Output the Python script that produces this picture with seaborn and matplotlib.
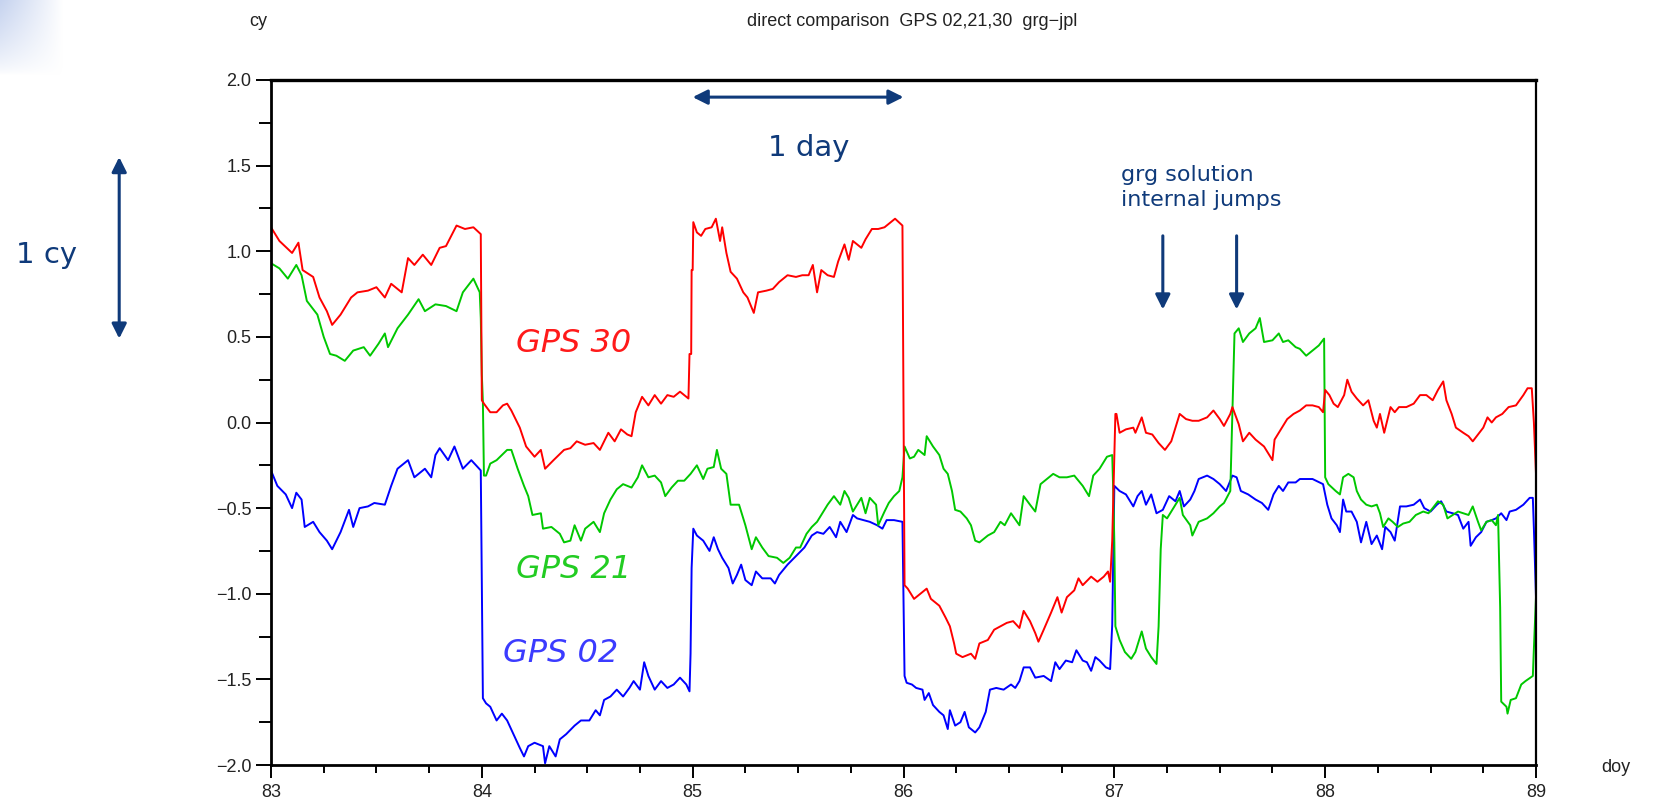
import numpy as np
import pandas as pd
import matplotlib
matplotlib.use("Agg")
import matplotlib.pyplot as plt
from matplotlib.ticker import MultipleLocator, FuncFormatter
import seaborn as sns

# ---------------- data (doy, cy) ----------------
gps30 = [(83.00,1.14),(83.04,1.06),(83.10,0.99),(83.13,1.05),(83.15,0.89),(83.20,0.85),(83.23,0.73),(83.265,0.65),(83.29,0.57),(83.33,0.63),(83.38,0.73),(83.41,0.76),(83.46,0.77),(83.50,0.79),(83.54,0.73),(83.57,0.81),(83.62,0.76),(83.65,0.96),(83.68,0.92),(83.72,0.98),(83.76,0.92),(83.80,1.02),(83.83,1.03),(83.88,1.15),(83.92,1.13),(83.96,1.14),(83.995,1.10),
         (84.00,0.13),(84.01,0.11),(84.04,0.06),(84.07,0.06),(84.10,0.10),(84.12,0.11),(84.14,0.07),(84.18,-0.03),(84.21,-0.14),(84.25,-0.20),(84.28,-0.16),(84.30,-0.27),(84.34,-0.22),(84.39,-0.16),(84.42,-0.15),(84.45,-0.11),(84.49,-0.13),(84.53,-0.12),(84.56,-0.16),(84.60,-0.06),(84.63,-0.11),(84.66,-0.04),(84.69,-0.07),(84.71,-0.08),(84.73,0.06),(84.76,0.15),(84.79,0.10),(84.82,0.16),(84.85,0.11),(84.88,0.16),(84.91,0.15),(84.94,0.18),(84.98,0.14),(84.985,0.40),(84.993,0.40),(84.995,0.89),(85.00,0.89),
         (85.003,1.17),(85.02,1.11),(85.04,1.09),(85.06,1.13),(85.09,1.14),(85.11,1.19),(85.13,1.06),(85.14,1.14),(85.16,0.99),(85.18,0.88),(85.21,0.84),(85.24,0.76),(85.26,0.73),(85.29,0.64),(85.31,0.76),(85.35,0.77),(85.38,0.78),(85.41,0.82),(85.45,0.86),(85.49,0.85),(85.52,0.86),(85.55,0.86),(85.57,0.92),(85.59,0.76),(85.61,0.89),(85.64,0.86),(85.67,0.85),(85.69,0.94),(85.72,1.04),(85.74,0.95),(85.76,1.06),(85.80,1.02),(85.82,1.07),(85.85,1.13),(85.88,1.13),(85.91,1.14),(85.94,1.17),(85.96,1.19),(85.995,1.15),
         (86.00,0.13),(86.005,-0.95),(86.02,-0.97),(86.05,-1.03),(86.08,-1.00),(86.11,-0.97),(86.13,-1.03),(86.17,-1.07),(86.20,-1.14),(86.22,-1.19),(86.24,-1.29),(86.25,-1.35),(86.28,-1.37),(86.32,-1.35),(86.34,-1.38),(86.36,-1.29),(86.40,-1.27),(86.43,-1.21),(86.46,-1.19),(86.49,-1.17),(86.52,-1.16),(86.55,-1.20),(86.57,-1.10),(86.60,-1.16),(86.625,-1.23),(86.64,-1.28),(86.665,-1.21),(86.70,-1.11),(86.73,-1.02),(86.75,-1.11),(86.775,-1.02),(86.81,-0.98),(86.83,-0.91),(86.85,-0.95),(86.89,-0.90),(86.92,-0.93),(86.95,-0.90),(86.97,-0.87),(86.98,-0.93),(86.99,-0.69),
         (87.00,-0.19),(87.005,0.05),(87.01,0.05),(87.025,-0.06),(87.055,-0.04),(87.09,-0.03),(87.10,-0.06),(87.13,0.03),(87.15,-0.06),(87.18,-0.07),(87.21,-0.12),(87.24,-0.16),(87.27,-0.11),(87.31,0.05),(87.34,0.02),(87.37,0.01),(87.40,0.01),(87.44,0.03),(87.47,0.07),(87.50,0.02),(87.52,-0.02),(87.55,0.05),(87.56,0.09),(87.59,-0.01),(87.61,-0.11),(87.64,-0.06),(87.67,-0.10),(87.71,-0.14),(87.73,-0.18),(87.75,-0.22),(87.76,-0.10),(87.79,-0.04),(87.82,0.02),(87.85,0.05),(87.88,0.07),(87.91,0.10),(87.94,0.10),(87.97,0.09),(87.99,0.06),
         (88.00,0.19),(88.02,0.16),(88.04,0.11),(88.06,0.09),(88.09,0.16),(88.105,0.25),(88.125,0.18),(88.15,0.14),(88.18,0.10),(88.205,0.13),(88.23,0.01),(88.245,-0.03),(88.26,0.05),(88.28,-0.06),(88.31,0.09),(88.33,0.06),(88.35,0.09),(88.385,0.09),(88.42,0.11),(88.45,0.16),(88.48,0.16),(88.51,0.13),(88.535,0.19),(88.56,0.24),(88.575,0.13),(88.60,0.05),(88.62,-0.03),(88.655,-0.06),(88.68,-0.08),(88.70,-0.11),(88.725,-0.07),(88.75,-0.03),(88.77,0.03),(88.79,0.00),(88.81,0.03),(88.84,0.05),(88.87,0.09),(88.905,0.10),(88.94,0.16),(88.96,0.20),(88.98,0.20),(88.99,0.00),(89.00,-0.30)]

gps21 = [(83.00,0.93),(83.04,0.90),(83.08,0.84),(83.12,0.92),(83.145,0.86),(83.17,0.71),(83.22,0.63),(83.25,0.50),(83.28,0.40),(83.31,0.39),(83.35,0.36),(83.39,0.42),(83.44,0.44),(83.47,0.39),(83.51,0.46),(83.54,0.52),(83.555,0.44),(83.60,0.55),(83.65,0.63),(83.70,0.72),(83.73,0.65),(83.78,0.69),(83.83,0.68),(83.88,0.65),(83.91,0.76),(83.96,0.84),(83.99,0.76),(83.995,0.61),(84.00,0.28),(84.005,0.12),
         (84.01,-0.31),(84.02,-0.31),(84.04,-0.24),(84.07,-0.22),(84.095,-0.19),(84.12,-0.16),(84.14,-0.16),(84.17,-0.27),(84.20,-0.37),(84.22,-0.43),(84.24,-0.54),(84.28,-0.53),(84.29,-0.62),(84.33,-0.61),(84.37,-0.65),(84.39,-0.70),(84.42,-0.69),(84.44,-0.60),(84.47,-0.69),(84.49,-0.62),(84.53,-0.58),(84.56,-0.64),(84.58,-0.53),(84.61,-0.45),(84.64,-0.39),(84.67,-0.36),(84.71,-0.38),(84.74,-0.32),(84.76,-0.25),(84.79,-0.32),(84.82,-0.31),(84.85,-0.35),(84.87,-0.43),(84.90,-0.38),(84.93,-0.34),(84.96,-0.34),(84.99,-0.30),
         (85.02,-0.25),(85.05,-0.33),(85.07,-0.27),(85.10,-0.26),(85.115,-0.16),(85.135,-0.27),(85.16,-0.30),(85.18,-0.48),(85.22,-0.48),(85.25,-0.60),(85.28,-0.74),(85.30,-0.67),(85.33,-0.73),(85.36,-0.78),(85.40,-0.79),(85.43,-0.82),(85.46,-0.79),(85.49,-0.73),(85.51,-0.73),(85.54,-0.65),(85.565,-0.61),(85.59,-0.58),(85.61,-0.54),(85.64,-0.48),(85.67,-0.43),(85.70,-0.48),(85.72,-0.40),(85.74,-0.44),(85.76,-0.52),(85.80,-0.44),(85.82,-0.53),(85.84,-0.44),(85.87,-0.48),(85.88,-0.60),(85.91,-0.52),(85.93,-0.47),(85.955,-0.43),(85.98,-0.40),(85.995,-0.32),
         (86.005,-0.14),(86.03,-0.21),(86.05,-0.20),(86.07,-0.16),(86.10,-0.19),(86.11,-0.08),(86.14,-0.14),(86.17,-0.19),(86.19,-0.27),(86.21,-0.30),(86.23,-0.40),(86.245,-0.51),(86.27,-0.52),(86.30,-0.56),(86.32,-0.60),(86.34,-0.69),(86.36,-0.70),(86.40,-0.66),(86.43,-0.64),(86.46,-0.58),(86.48,-0.60),(86.51,-0.53),(86.55,-0.60),(86.57,-0.43),(86.60,-0.48),(86.625,-0.52),(86.65,-0.36),(86.68,-0.33),(86.71,-0.30),(86.74,-0.32),(86.775,-0.32),(86.81,-0.31),(86.85,-0.37),(86.88,-0.43),(86.90,-0.31),(86.93,-0.27),(86.965,-0.20),(86.99,-0.19),(86.995,-0.41),
         (87.00,-0.70),(87.005,-1.19),(87.025,-1.27),(87.05,-1.34),(87.08,-1.38),(87.10,-1.34),(87.13,-1.22),(87.15,-1.32),(87.175,-1.37),(87.20,-1.41),(87.21,-1.19),(87.22,-0.74),(87.23,-0.54),(87.25,-0.56),(87.28,-0.50),(87.31,-0.44),(87.325,-0.54),(87.36,-0.60),(87.37,-0.66),(87.40,-0.58),(87.44,-0.56),(87.47,-0.53),(87.50,-0.49),(87.52,-0.47),(87.55,-0.40),(87.56,0.07),(87.57,0.52),(87.59,0.55),(87.61,0.47),(87.64,0.52),(87.67,0.55),(87.69,0.61),(87.71,0.47),(87.75,0.48),(87.78,0.52),(87.80,0.47),(87.825,0.48),(87.86,0.44),(87.88,0.43),(87.91,0.39),(87.94,0.42),(87.97,0.45),(87.995,0.49),
         (88.00,-0.32),(88.015,-0.36),(88.05,-0.40),(88.07,-0.42),(88.085,-0.32),(88.11,-0.30),(88.135,-0.32),(88.15,-0.40),(88.17,-0.45),(88.195,-0.48),(88.22,-0.49),(88.245,-0.48),(88.26,-0.53),(88.275,-0.61),(88.30,-0.56),(88.32,-0.58),(88.345,-0.61),(88.37,-0.59),(88.40,-0.58),(88.43,-0.54),(88.465,-0.52),(88.49,-0.53),(88.51,-0.50),(88.535,-0.46),(88.56,-0.48),(88.58,-0.56),(88.605,-0.54),(88.63,-0.52),(88.655,-0.53),(88.68,-0.54),(88.70,-0.49),(88.725,-0.58),(88.74,-0.63),(88.765,-0.58),(88.79,-0.57),(88.81,-0.60),(88.82,-0.54),(88.83,-1.08),(88.835,-1.63),(88.86,-1.66),(88.865,-1.70),(88.88,-1.62),(88.905,-1.61),(88.93,-1.53),(88.95,-1.51),(88.985,-1.48),(88.99,-1.32),(89.00,-1.02)]

gps02 = [(83.00,-0.28),(83.03,-0.37),(83.07,-0.42),(83.10,-0.50),(83.12,-0.41),(83.145,-0.45),(83.16,-0.61),(83.20,-0.58),(83.23,-0.64),(83.265,-0.69),(83.29,-0.74),(83.33,-0.64),(83.37,-0.51),(83.39,-0.61),(83.42,-0.50),(83.46,-0.49),(83.49,-0.47),(83.54,-0.48),(83.57,-0.37),(83.60,-0.27),(83.65,-0.22),(83.68,-0.32),(83.73,-0.27),(83.76,-0.32),(83.78,-0.19),(83.80,-0.15),(83.84,-0.22),(83.87,-0.14),(83.91,-0.27),(83.95,-0.22),(83.995,-0.28),
         (84.00,-0.94),(84.005,-1.61),(84.02,-1.64),(84.04,-1.66),(84.07,-1.74),(84.095,-1.70),(84.12,-1.74),(84.15,-1.82),(84.18,-1.90),(84.20,-1.95),(84.22,-1.89),(84.25,-1.87),(84.29,-1.89),(84.30,-1.99),(84.32,-1.89),(84.35,-1.95),(84.37,-1.85),(84.40,-1.82),(84.44,-1.77),(84.47,-1.74),(84.51,-1.74),(84.54,-1.68),(84.56,-1.71),(84.58,-1.62),(84.61,-1.60),(84.64,-1.56),(84.67,-1.60),(84.70,-1.55),(84.72,-1.51),(84.75,-1.56),(84.77,-1.40),(84.79,-1.48),(84.82,-1.56),(84.85,-1.51),(84.88,-1.55),(84.91,-1.53),(84.94,-1.49),(84.97,-1.53),(84.985,-1.57),(84.99,-1.35),(84.995,-0.85),
         (85.003,-0.62),(85.02,-0.66),(85.05,-0.69),(85.08,-0.75),(85.10,-0.67),(85.12,-0.74),(85.14,-0.79),(85.17,-0.85),(85.19,-0.94),(85.21,-0.89),(85.23,-0.83),(85.25,-0.92),(85.28,-0.95),(85.30,-0.87),(85.33,-0.91),(85.37,-0.91),(85.39,-0.94),(85.41,-0.89),(85.45,-0.83),(85.49,-0.78),(85.53,-0.73),(85.565,-0.66),(85.59,-0.64),(85.62,-0.65),(85.65,-0.61),(85.68,-0.67),(85.70,-0.58),(85.73,-0.64),(85.76,-0.54),(85.78,-0.56),(85.81,-0.57),(85.84,-0.58),(85.875,-0.60),(85.90,-0.62),(85.92,-0.57),(85.955,-0.57),(85.995,-0.58),
         (86.00,-1.02),(86.005,-1.48),(86.015,-1.52),(86.04,-1.53),(86.06,-1.55),(86.09,-1.56),(86.10,-1.62),(86.12,-1.58),(86.14,-1.65),(86.17,-1.69),(86.19,-1.71),(86.21,-1.79),(86.22,-1.68),(86.245,-1.77),(86.27,-1.75),(86.29,-1.69),(86.31,-1.78),(86.34,-1.81),(86.36,-1.78),(86.39,-1.69),(86.41,-1.56),(86.44,-1.55),(86.475,-1.56),(86.51,-1.53),(86.53,-1.55),(86.55,-1.51),(86.57,-1.43),(86.60,-1.43),(86.625,-1.49),(86.665,-1.48),(86.70,-1.51),(86.72,-1.40),(86.74,-1.44),(86.77,-1.39),(86.80,-1.40),(86.82,-1.33),(86.85,-1.39),(86.87,-1.40),(86.89,-1.45),(86.91,-1.37),(86.93,-1.39),(86.96,-1.43),(86.98,-1.44),(86.99,-1.18),
         (87.00,-0.37),(87.025,-0.40),(87.055,-0.42),(87.09,-0.49),(87.11,-0.43),(87.13,-0.40),(87.15,-0.48),(87.175,-0.42),(87.20,-0.53),(87.23,-0.51),(87.26,-0.43),(87.29,-0.46),(87.31,-0.40),(87.33,-0.49),(87.36,-0.45),(87.38,-0.40),(87.40,-0.33),(87.44,-0.31),(87.47,-0.33),(87.50,-0.36),(87.53,-0.40),(87.56,-0.31),(87.58,-0.32),(87.60,-0.40),(87.635,-0.42),(87.67,-0.45),(87.70,-0.47),(87.73,-0.51),(87.755,-0.42),(87.78,-0.37),(87.80,-0.40),(87.825,-0.35),(87.86,-0.35),(87.88,-0.33),(87.91,-0.33),(87.94,-0.33),(87.99,-0.36),
         (88.01,-0.48),(88.03,-0.56),(88.055,-0.60),(88.07,-0.64),(88.085,-0.45),(88.10,-0.52),(88.125,-0.52),(88.15,-0.58),(88.17,-0.70),(88.195,-0.58),(88.22,-0.71),(88.245,-0.66),(88.27,-0.74),(88.285,-0.61),(88.31,-0.64),(88.33,-0.69),(88.355,-0.49),(88.385,-0.49),(88.42,-0.48),(88.45,-0.45),(88.47,-0.50),(88.50,-0.52),(88.53,-0.48),(88.55,-0.46),(88.575,-0.52),(88.605,-0.53),(88.63,-0.54),(88.655,-0.62),(88.68,-0.58),(88.69,-0.72),(88.715,-0.67),(88.74,-0.64),(88.765,-0.58),(88.79,-0.57),(88.81,-0.56),(88.835,-0.53),(88.86,-0.57),(88.875,-0.52),(88.905,-0.51),(88.94,-0.48),(88.97,-0.44),(88.985,-0.44),(88.99,-0.62),(89.00,-1.02)]

series_names = ["GPS 02", "GPS 21", "GPS 30"]
line_colors = ["#0000ff", "#00c800", "#ff0000"]
label_colors = ["#3b3bff", "#22cc22", "#ff1a1a"]
x_ticks = [83, 84, 85, 86, 87, 88, 89]
y_ticks = [-2.0, -1.5, -1.0, -0.5, 0.0, 0.5, 1.0, 1.5, 2.0]

# ---------------- build tidy frame ----------------
frames = []
for name, pts in zip(series_names, [gps02, gps21, gps30]):
    arr = np.array(pts)
    frames.append(pd.DataFrame({"doy": arr[:, 0], "cy": arr[:, 1], "sat": name}))
df = pd.concat(frames, ignore_index=True)

sns.set_theme(style="white")
plt.rcParams["font.family"] = ["Liberation Sans", "DejaVu Sans"]

W, H = 1667, 807
fig = plt.figure(figsize=(W / 100, H / 100), dpi=100)
fig.patch.set_facecolor("white")

# light blue slide corner decoration (soft fade)
deco = fig.add_axes([0, 1 - 75 / H, 62 / W, 75 / H])
gy, gx = np.mgrid[0:1:80j, 0:1:80j]
g = np.clip((1 - gx) ** 0.9 * (1 - gy) ** 0.7, 0, 1)
deco.imshow(g, cmap=matplotlib.colors.LinearSegmentedColormap.from_list("c", ["#ffffff", "#c6d3ef"]),
            aspect="auto", vmin=0, vmax=1, interpolation="bilinear")
deco.axis("off")

ax = fig.add_axes([271 / W, 1 - 765 / H, (1536 - 271) / W, (765 - 80) / H])
sns.lineplot(data=df, x="doy", y="cy", hue="sat", hue_order=series_names,
             palette=line_colors, estimator=None, sort=False, units="sat",
             linewidth=1.4, legend=False, ax=ax)

ax.set_xlim(83, 89)
ax.set_ylim(-2.0, 2.0)
ax.set_xticks(x_ticks)
ax.set_yticks(y_ticks)
ax.xaxis.set_minor_locator(MultipleLocator(0.25))
ax.yaxis.set_minor_locator(MultipleLocator(0.25))
ax.yaxis.set_major_formatter(FuncFormatter(lambda v, p: f"{v:.1f}".replace("-", "\u2212")))
ax.xaxis.set_major_formatter(FuncFormatter(lambda v, p: f"{v:.0f}"))
ax.set_xlabel("")
ax.set_ylabel("")
ax.tick_params(axis="both", which="both", direction="out", color="black",
               labelsize=13, labelcolor="#222222", width=1.4, bottom=True, left=True)
ax.tick_params(axis="y", which="major", length=11, pad=3)
ax.tick_params(axis="y", which="minor", length=9)
ax.tick_params(axis="x", which="major", length=9, pad=5)
ax.tick_params(axis="x", which="minor", length=6)
for s in ax.spines.values():
    s.set_color("black")
    s.set_linewidth(1.6)
    s.set_visible(True)
ax.spines["top"].set_linewidth(2.4)
ax.spines["left"].set_linewidth(2.0)
ax.spines["bottom"].set_linewidth(2.0)
ax.set_facecolor("white")
ax.grid(False)

# header texts
fig.text(258 / W, 1 - 22 / H, "cy", fontsize=13, color="#222222", ha="center", va="center")
fig.text(912 / W, 1 - 22 / H, "direct comparison  GPS 02,21,30  grg\u2212jpl", fontsize=13,
         color="#222222", ha="center", va="center")
fig.text(1616 / W, 1 - 767 / H, "doy", fontsize=13, color="#222222", ha="center", va="center")

navy = "#0f3a7a"
hand = ["DejaVu Sans"]

# series labels
label_pos = [(84.10, -1.35), (84.16, -0.86), (84.16, 0.46)]
for name, col, (lx, ly) in zip(series_names, label_colors, label_pos):
    ax.text(lx, ly, name, color=col, fontsize=23, style="italic", family=hand,
            ha="left", va="center")

# 1 day arrow
ax.annotate("", xy=(86.0, 1.90), xytext=(85.0, 1.90),
            arrowprops=dict(arrowstyle="<|-|>", color=navy, lw=2.2, mutation_scale=22,
                            shrinkA=0, shrinkB=0))
ax.text(85.55, 1.60, "1 day", color=navy, fontsize=21, family=hand, ha="center", va="center")

# 1 cy arrow (outside axes)
ax.annotate("", xy=(82.28, 1.55), xytext=(82.28, 0.49),
            arrowprops=dict(arrowstyle="<|-|>", color=navy, lw=2.2, mutation_scale=22,
                            shrinkA=0, shrinkB=0), annotation_clip=False)
fig.text(16 / W, 1 - 255 / H, "1 cy", color=navy, fontsize=21, family=hand,
         ha="left", va="center")

# grg solution note
ax.text(87.03, 1.37, "grg solution\ninternal jumps", color=navy, fontsize=16, family=hand,
        ha="left", va="center", linespacing=1.3)
for xx in (87.23, 87.58):
    ax.annotate("", xy=(xx, 0.66), xytext=(xx, 1.09),
                arrowprops=dict(arrowstyle="-|>", color=navy, lw=2.2, mutation_scale=22,
                                shrinkA=0, shrinkB=0))

fig.savefig("out.png", dpi=100, facecolor="white")
